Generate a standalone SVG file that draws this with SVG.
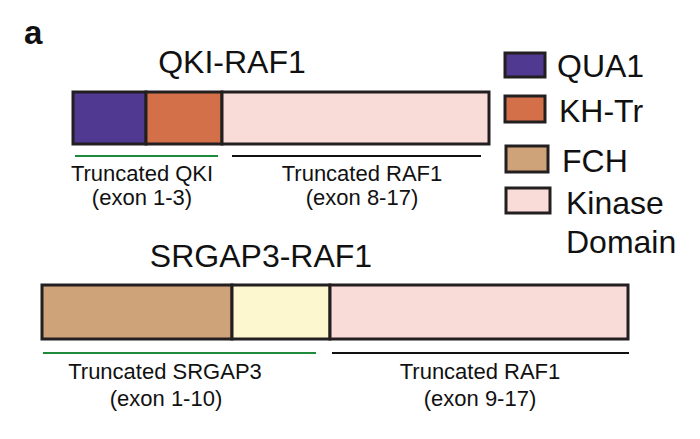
<svg xmlns="http://www.w3.org/2000/svg" width="700" height="439" viewBox="0 0 700 439">
<style>
text{font-family:"Liberation Sans",Arial,sans-serif;fill:#111}
.seg{stroke:#231f20;stroke-width:3}
.title{font-size:32px;text-anchor:middle}
.lab{font-size:22px;text-anchor:middle}
.leg{font-size:32px}
.qua{fill:#4f3991}
.kh{fill:#d3704a}
.fch{fill:#cfa37a}
.yel{fill:#fdf7d0}
.kin{fill:#f9dcd7}
</style>
<rect width="700" height="439" fill="#fff"/>
<text x="24" y="44" style="font-size:33px;font-weight:bold">a</text>
<g id="qki-raf1">
<text class="title" x="232" y="73">QKI-RAF1</text>
<rect class="seg qua" x="73" y="92" width="73" height="52"/>
<rect class="seg kh" x="146" y="92" width="76" height="52"/>
<rect class="seg kin" x="222" y="92" width="267" height="52"/>
</g>
<g id="srgap3-raf1">
<text class="title" x="261" y="267">SRGAP3-RAF1</text>
<rect class="seg fch" x="42" y="285" width="190" height="54"/>
<rect class="seg yel" x="232" y="285" width="98" height="54"/>
<rect class="seg kin" x="330" y="285" width="298" height="54"/>
</g>
<g id="connectors">
<line x1="75" y1="156" x2="218" y2="156" stroke="#1e8a3a" stroke-width="2"/>
<line x1="232" y1="156" x2="481" y2="156" stroke="#111" stroke-width="2"/>
<line x1="43" y1="353" x2="316" y2="353" stroke="#1e8a3a" stroke-width="2"/>
<line x1="332" y1="353" x2="629" y2="353" stroke="#111" stroke-width="2"/>
</g>
<g id="labels">
<text class="lab" x="142" y="181">Truncated QKI</text>
<text class="lab" x="142" y="205">(exon 1-3)</text>
<text class="lab" x="362" y="181">Truncated RAF1</text>
<text class="lab" x="362" y="205">(exon 8-17)</text>
<text class="lab" x="165" y="379">Truncated SRGAP3</text>
<text class="lab" x="166" y="406">(exon 1-10)</text>
<text class="lab" x="480" y="379">Truncated RAF1</text>
<text class="lab" x="480" y="406">(exon 9-17)</text>
</g>
<g id="legend">
<rect class="seg qua" x="505" y="53" width="40" height="24"/>
<text class="leg" x="557" y="77">QUA1</text>
<rect class="seg kh" x="505" y="96" width="40" height="26"/>
<text class="leg" x="559" y="122">KH-Tr</text>
<rect class="seg fch" x="506" y="146" width="42" height="26"/>
<text class="leg" x="562" y="172">FCH</text>
<rect class="seg kin" x="506" y="188" width="44" height="25"/>
<text class="leg" x="566" y="214">Kinase</text>
<text class="leg" x="566" y="253">Domain</text>
</g>
</svg>
